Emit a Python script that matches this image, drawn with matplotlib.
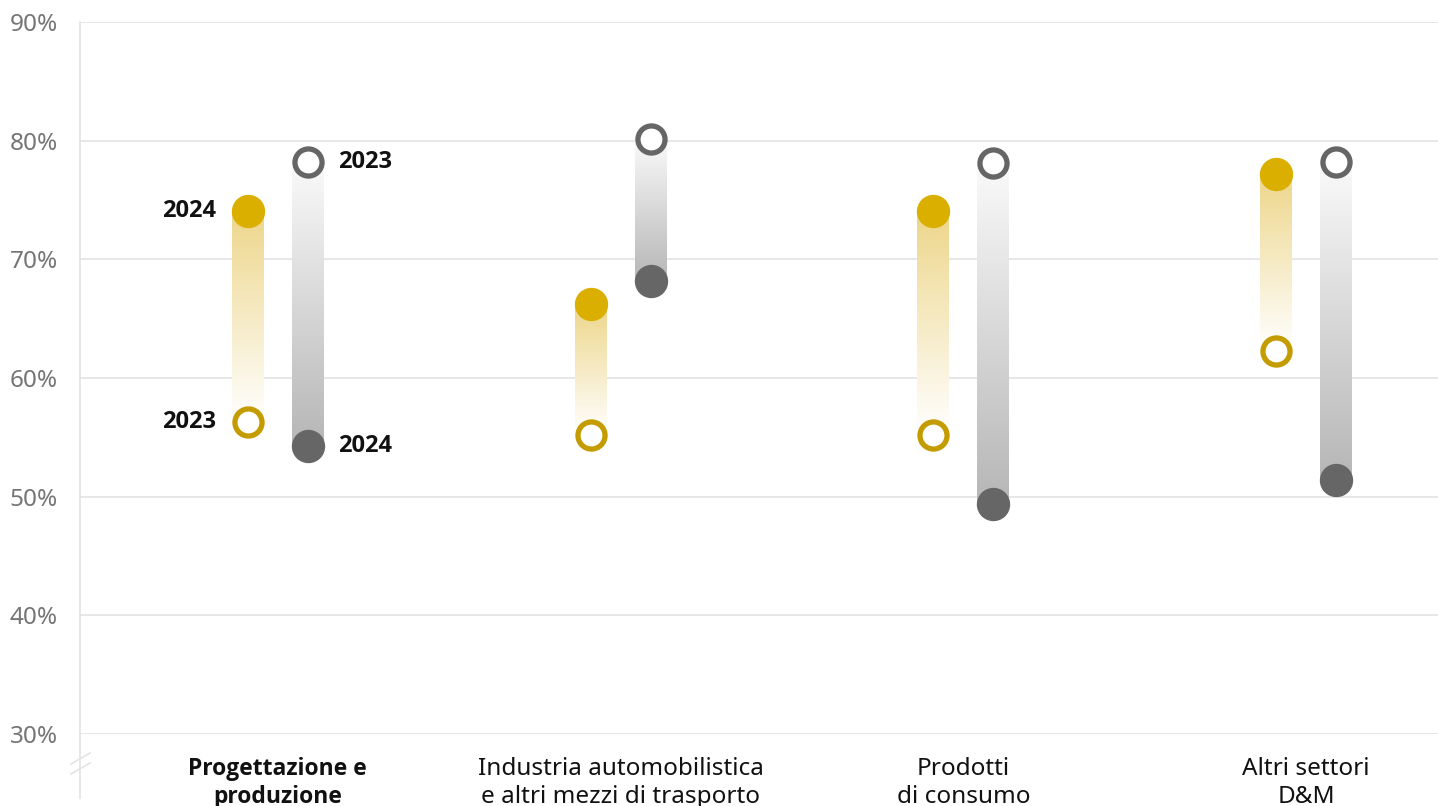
import numpy as np
import matplotlib.pyplot as plt
from matplotlib.colors import LinearSegmentedColormap
from matplotlib.lines import Line2D

plt.rcParams['font.family'] = ['Noto Sans', 'DejaVu Sans']
BOLD_FAMILY = ['Open Sans', 'DejaVu Sans']

# data (percent)
categories = ["Progettazione e\nproduzione",
              "Industria automobilistica\ne altri mezzi di trasporto",
              "Prodotti\ndi consumo",
              "Altri settori\nD&M"]
yellow_2024 = [74.1, 66.2, 74.1, 77.2]
yellow_2023 = [56.3, 55.2, 55.2, 62.3]
gray_2023 = [78.2, 80.1, 78.1, 78.2]
gray_2024 = [54.3, 68.2, 49.4, 51.4]
yticks = [30, 40, 50, 60, 70, 80, 90]

YEL = "#DBAF00"
YEL_RING = "#C49C00"
GRY = "#666666"

W, H = 1438, 806
fig = plt.figure(figsize=(W / 100, H / 100), dpi=100)
ax = fig.add_axes([80 / W, 1 - 734 / H, 1 - 80 / W, (734 - 22) / H])
ax.set_ylim(30, 90)
ax.set_xlim(-0.577, 3.385)

for s in ["top", "right", "bottom"]:
    ax.spines[s].set_visible(False)
ax.spines["left"].set_color("#E3E3E3")
ax.spines["left"].set_linewidth(1.2)
ax.set_yticks(yticks)
ax.set_yticklabels([f"{t}%" for t in yticks], fontsize=17.5, color="#757575")
ax.tick_params(axis="y", length=0, pad=16)
ax.tick_params(axis="x", length=0)
ax.grid(axis="y", color="#E3E3E3", linewidth=1.2)
ax.set_axisbelow(True)
ax.set_xticks([])

# spine below axis with break mark
ax.add_line(Line2D([0, 0], [0, -64 / 712], transform=ax.transAxes,
                   color="#E3E3E3", lw=1.2, clip_on=False))
for dy in [0, 10]:
    ax.add_line(Line2D([-9 / 1358, 10 / 1358], [(-30 - dy) / 712, (-19 - dy) / 712],
                       transform=ax.transAxes, color="#E3E3E3", lw=1.2, clip_on=False))

off = 0.0875
bw = 0.093  # bar width in category units (~32 px)

cmap_y = LinearSegmentedColormap.from_list("y", ["#FFFFFF", "#EDD68A"])
cmap_g = LinearSegmentedColormap.from_list("g", ["#FAFAFA", "#B6B6B6"])

for i in range(len(categories)):
    xy = i - off
    xg = i + off
    grad = np.linspace(0, 1, 256).reshape(-1, 1)
    # yellow bar: strong at 2024 end (top), fade at 2023 end
    lo, hi = yellow_2023[i], yellow_2024[i]
    ax.imshow(grad, cmap=cmap_y, aspect="auto", origin="lower",
              extent=[xy - bw / 2, xy + bw / 2, lo, hi], zorder=2)
    # gray bar: faded at 2023 end (top), strong at 2024 end (bottom)
    lo, hi = gray_2024[i], gray_2023[i]
    ax.imshow(grad[::-1], cmap=cmap_g, aspect="auto", origin="lower",
              extent=[xg - bw / 2, xg + bw / 2, lo, hi], zorder=2)

    ax.plot(xy, yellow_2024[i], "o", ms=23, color=YEL, mec=YEL, zorder=4)
    ax.plot(xy, yellow_2023[i], "o", ms=19.5, mfc="white", mec=YEL_RING, mew=3.8, zorder=4)
    ax.plot(xg, gray_2024[i], "o", ms=23, color=GRY, mec=GRY, zorder=4)
    ax.plot(xg, gray_2023[i], "o", ms=19.5, mfc="white", mec=GRY, mew=3.8, zorder=4)

ax.set_xlim(-0.577, 3.385)
ax.set_ylim(30, 90)

# year labels for first group
lab = dict(fontsize=17, fontweight="bold", color="#111111", va="center",
           family=BOLD_FAMILY)
ax.annotate("2024", (0 - off, yellow_2024[0]), xytext=(-32, 0),
            textcoords="offset pixels", ha="right", **lab)
ax.annotate("2023", (0 - off, yellow_2023[0]), xytext=(-32, 0),
            textcoords="offset pixels", ha="right", **lab)
ax.annotate("2023", (0 + off, gray_2023[0]), xytext=(30, 0),
            textcoords="offset pixels", ha="left", **lab)
ax.annotate("2024", (0 + off, gray_2024[0]), xytext=(30, 0),
            textcoords="offset pixels", ha="left", **lab)

# category labels
for i, c in enumerate(categories):
    if i == 0:
        extra = dict(fontweight="bold", family=BOLD_FAMILY, fontsize=16.5)
    else:
        extra = dict(fontsize=17.5)
    ax.text(i, 30 - 1.9, c, ha="center", va="top", color="#111111",
            linespacing=1.22, clip_on=False, **extra)

fig.savefig("out.png", dpi=100)
